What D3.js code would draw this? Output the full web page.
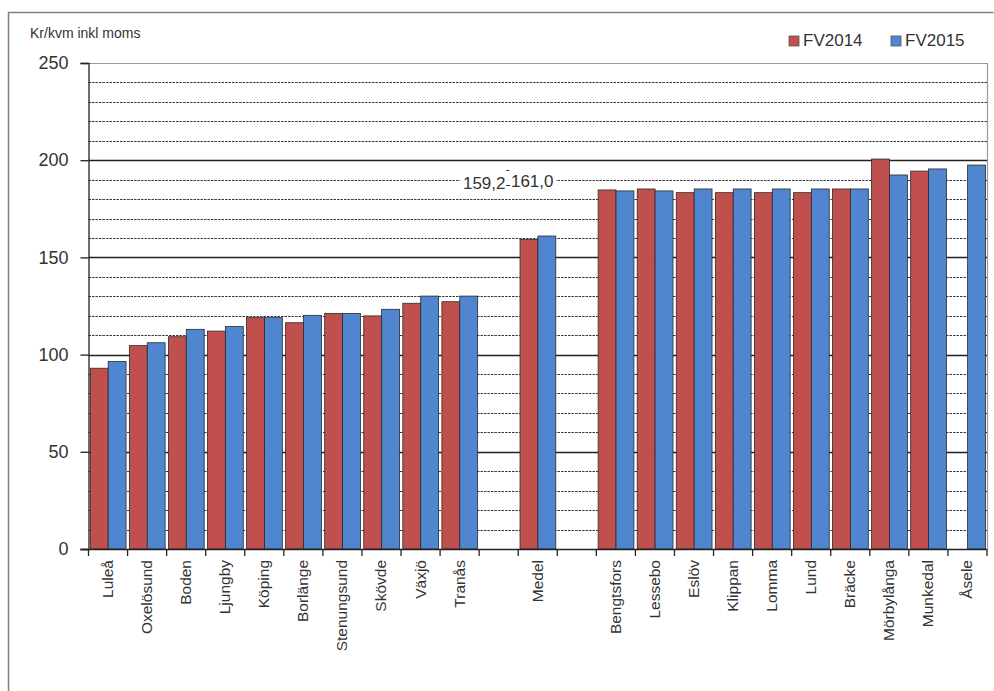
<!DOCTYPE html>
<html>
<head>
<meta charset="utf-8">
<script src="https://cdn.jsdelivr.net/npm/d3@7"></script>
<style>
  body { margin: 0; background: #fff; }
  text { font-family: "Liberation Sans", Arial, sans-serif; }
</style>
</head>
<body>
<div id="chart"></div>
<script>
// categories, "" = empty slot in the category axis
let categories = ['Luleå', 'Oxelösund', 'Boden', 'Ljungby', 'Köping', 'Borlänge', 'Stenungsund', 'Skövde', 'Växjö', 'Tranås',
    '', 'Medel', '',
    'Bengtsfors', 'Lessebo', 'Eslöv', 'Klippan', 'Lomma', 'Lund', 'Bräcke', 'Mörbylånga', 'Munkedal', 'Åsele']
let fv2014 = [93, 104.6, 109.2, 112.1, 119, 116.4, 121.2, 119.9, 126.4, 127.2,
    null, 159.2, null,
    184.7, 185.2, 183.3, 183.3, 183.3, 183.3, 185.2, 200.6, 194.4, null]
let fv2015 = [96.4, 106.1, 113, 114.4, 119, 120.2, 121.2, 123.3, 130.1, 130.1,
    null, 161.0, null,
    184.2, 184.2, 185.2, 185.2, 185.2, 185.2, 185.2, 192.4, 195.5, 197.5]
let series = ['FV2014', 'FV2015']
let yTicks = [0, 50, 100, 150, 200, 250]

let colors = { FV2014: '#C0504D', FV2015: '#4F86CF' }

let width = 994, height = 691
let svg = d3.select('#chart')
    .append('svg')
    .attr('width', width)
    .attr('height', height)

// outer frame
svg.append('path')
    .attr('d', 'M8.5,700 V12.5 H993.5')
    .attr('fill', 'none')
    .attr('stroke', '#7f7f7f')
    .attr('stroke-width', 1.5)

let pLeft = 88.5, pRight = 987, pTop = 63, pBottom = 549

let x = d3.scaleBand()
    .domain(d3.range(categories.length))
    .range([pLeft, pRight])

let xs = d3.scaleBand()
    .domain(series)
    .range([1.8, x.bandwidth() - 1.5])

let y = d3.scaleLinear()
    .domain([0, 250])
    .range([pBottom, pTop])

// plot frame (top / right)
svg.append('path')
    .attr('d', `M${pLeft},${pTop + 0.5} H${pRight + 0.5} V${pBottom}`)
    .attr('fill', 'none')
    .attr('stroke', '#9a9a9a')
    .attr('stroke-width', 1.2)

// grid lines every 10, solid every 50
let grid = d3.range(10, 250, 10)
svg.append('g')
    .selectAll('line')
    .data(grid)
    .enter()
    .append('line')
    .attr('x1', pLeft)
    .attr('x2', pRight)
    .attr('y1', d => Math.round(y(d)) + 0.5)
    .attr('y2', d => Math.round(y(d)) + 0.5)
    .attr('stroke', d => d % 50 === 0 ? '#222' : '#3a3a3a')
    .attr('stroke-width', d => d % 50 === 0 ? 1.3 : 1)
    .attr('stroke-dasharray', d => d % 50 === 0 ? null : '2.5,1')

// bars
let rows = categories.map((c, i) => ({ i: i, FV2014: fv2014[i], FV2015: fv2015[i] }))
let groups = svg.append('g')
    .selectAll('g')
    .data(rows)
    .enter()
    .append('g')
    .attr('transform', d => `translate(${x(d.i)},0)`)

groups.selectAll('rect')
    .data(d => series.map(s => ({ key: s, value: d[s] })).filter(e => e.value != null))
    .enter()
    .append('rect')
    .attr('x', d => xs(d.key))
    .attr('width', xs.bandwidth())
    .attr('y', d => y(d.value))
    .attr('height', d => y(0) - y(d.value))
    .attr('fill', d => colors[d.key])
    .attr('stroke', '#2a2a2a')
    .attr('stroke-width', 0.8)

// y axis
let yAxis = d3.axisLeft(y)
    .tickValues(yTicks)
    .tickSize(8)
    .tickPadding(12)
let ya = svg.append('g')
    .attr('transform', `translate(${pLeft},0)`)
    .call(yAxis)
ya.select('.domain').attr('stroke', '#222').attr('stroke-width', 1.3)
ya.selectAll('.tick line').attr('stroke', '#222').attr('stroke-width', 1.3)
ya.selectAll('.tick text')
    .attr('font-size', 18)
    .attr('fill', '#333')
    .attr('font-family', '"Liberation Sans", Arial, sans-serif')

// x axis: ticks on category borders, labels rotated
let xa = svg.append('g')
svg.append('line')
    .attr('x1', pLeft - 8)
    .attr('x2', pRight)
    .attr('y1', pBottom + 0.5)
    .attr('y2', pBottom + 0.5)
    .attr('stroke', '#222')
    .attr('stroke-width', 1.3)
xa.selectAll('line')
    .data(d3.range(categories.length + 1))
    .enter()
    .append('line')
    .attr('x1', d => pLeft + d * x.step())
    .attr('x2', d => pLeft + d * x.step())
    .attr('y1', pBottom)
    .attr('y2', pBottom + 7)
    .attr('stroke', '#222')
    .attr('stroke-width', 1.3)
xa.selectAll('text')
    .data(categories)
    .enter()
    .append('text')
    .attr('transform', (d, i) => `translate(${x(i) + x.bandwidth() / 2 + 5},${pBottom + 11}) rotate(-90)`)
    .attr('text-anchor', 'end')
    .attr('font-size', 15.5)
    .attr('fill', '#333')
    .text(d => d)

// data labels on Medel
let mi = categories.indexOf('Medel')
let labels = [
    { text: fv2014[mi].toFixed(1).replace('.', ','), cx: x(mi) - 34, cy: 189 },
    { text: fv2015[mi].toFixed(1).replace('.', ','), cx: x(mi) + 14, cy: 187 }
]
let lab = svg.append('g')
lab.selectAll('rect')
    .data(labels)
    .enter()
    .append('rect')
    .attr('x', d => d.cx - 24)
    .attr('y', d => d.cy - 17)
    .attr('width', 48)
    .attr('height', 23)
    .attr('fill', '#fff')
lab.selectAll('text')
    .data(labels)
    .enter()
    .append('text')
    .attr('x', d => d.cx)
    .attr('y', d => d.cy)
    .attr('text-anchor', 'middle')
    .attr('font-size', 17)
    .attr('fill', '#333')
    .text(d => d.text)
lab.append('line')
    .attr('x1', x(mi) - 12).attr('x2', x(mi) - 8)
    .attr('y1', 185.5).attr('y2', 185.5)
    .attr('stroke', '#333')
lab.append('line')
    .attr('x1', x(mi) - 12).attr('x2', x(mi) - 9)
    .attr('y1', 170.5).attr('y2', 170.5)
    .attr('stroke', '#333')

// axis title
svg.append('text')
    .attr('x', 30)
    .attr('y', 38)
    .attr('font-size', 14)
    .attr('fill', '#333')
    .text('Kr/kvm inkl moms')

// legend
let legend = svg.append('g')
    .selectAll('g')
    .data(series)
    .enter()
    .append('g')
    .attr('transform', (d, i) => `translate(${789 + i * 102},36)`)
legend.append('rect')
    .attr('width', 10)
    .attr('height', 10)
    .attr('fill', d => colors[d])
    .attr('stroke', '#555')
    .attr('stroke-width', 0.8)
legend.append('text')
    .attr('x', 14)
    .attr('y', 10)
    .attr('font-size', 17)
    .attr('fill', '#333')
    .text(d => d)
</script>
</body>
</html>
